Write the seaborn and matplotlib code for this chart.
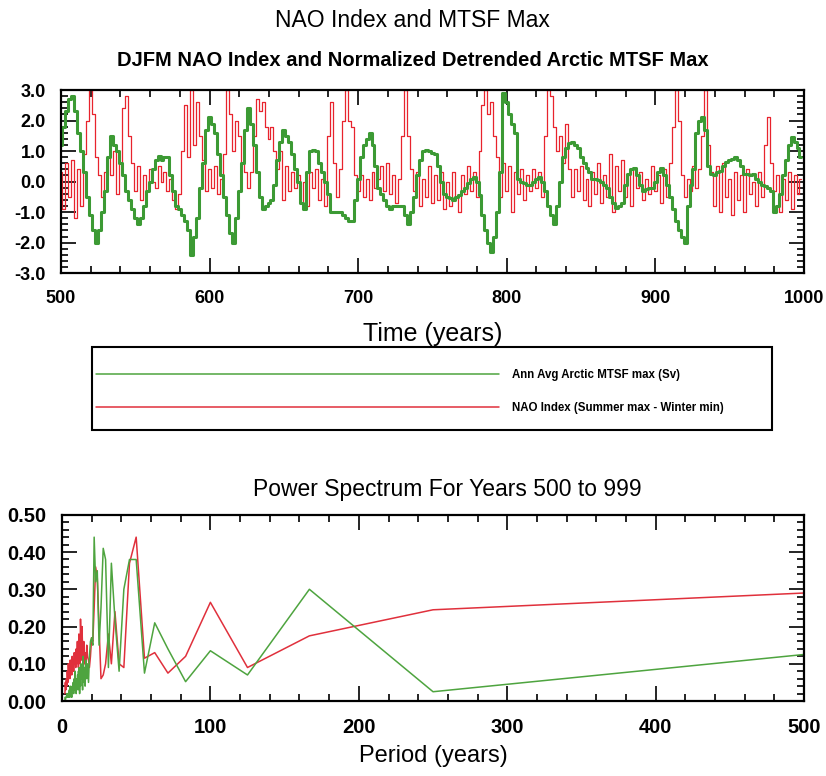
import matplotlib
matplotlib.use("Agg")
import numpy as np
import pandas as pd
import matplotlib.pyplot as plt
import seaborn as sns
from matplotlib.ticker import MultipleLocator, FormatStrFormatter
from matplotlib.patches import Rectangle

# Time axis: one value every 2 years, 500..998
years = list(range(500, 1000, 2))

# Annual average Arctic MTSF max (normalized, detrended) - green
mtsf = [
    1.2, 1.8, 2.3, 2.7, 2.8, 2.3, 1.6, 1.0, 0.3, -0.5,
    -1.1, -1.6, -2.0, -1.6, -1.0, -0.3, 0.8, 1.5, 1.2, 1.0,
    0.6, 0.2, -0.3, -0.6, -0.9, -1.2, -1.4, -1.2, -0.8, -0.3,
    0.0, 0.4, 0.7, 0.85, 0.7, 0.8, 0.8, 0.2, -0.3, -0.8,
    -0.9, -1.1, -1.3, -1.6, -2.4, -1.8, -1.2, -0.2, 0.6, 1.7,
    2.1, 1.9, 1.6, 0.9, 0.2, -0.5, -1.1, -1.7, -2.0, -1.2,
    -0.3, 0.6, 1.7, 2.4, 1.9, 1.2, 0.3, -0.5, -0.9, -0.8,
    -0.7, -0.6, -0.1, 0.7, 1.3, 1.7, 1.5, 1.3, 0.9, 0.4,
    0.0, -0.7, -0.9, 0.3, 1.0, 1.05, 1.0, 0.6, 0.3, 0.0,
    -0.4, -1.0, -1.0, -1.0, -1.0, -1.1, -1.2, -1.3, -1.3, -0.6,
    0.1, 0.8, 1.2, 1.4, 1.6, 1.2, 0.5, -0.2, -0.4, -0.6,
    -0.8, -0.9, -0.8, -0.8, -0.8, -0.8, -1.1, -1.4, -1.0, -0.5,
    0.2, 0.7, 1.0, 1.05, 1.0, 0.95, 0.9, 0.5, 0.0, -0.4,
    -0.5, -0.55, -0.6, -0.5, -0.45, -0.3, -0.2, -0.05, 0.1, 0.15,
    0.0, -0.45, -1.1, -1.6, -2.0, -2.3, -1.8, -1.0, 0.3, 2.9,
    2.6, 2.2, 1.9, 1.6, 0.1, 0.0, -0.05, -0.1, -0.1, 0.0,
    0.1, 0.15, 0.0, -0.3, -0.8, -1.1, -1.4, -0.8, 0.0, 0.8,
    1.1, 1.25, 1.3, 1.2, 1.1, 0.8, 0.6, 0.45, 0.3, 0.1,
    0.1, 0.05, 0.0, -0.1, -0.2, -0.5, -0.7, -0.85, -0.8, -0.7,
    -0.1, 0.25, 0.4, 0.45, 0.2, -0.1, -0.3, -0.25, -0.2, -0.2,
    0.0, 0.3, 0.45, 0.2, -0.1, -0.5, -0.9, -1.3, -1.6, -1.8,
    -2.0, -0.8, -0.1, 0.4, 1.6, 2.0, 2.1, 1.7, 0.5, 0.25,
    0.2, 0.3, 0.35, 0.5, 0.65, 0.7, 0.75, 0.8, 0.7, 0.5,
    0.25, 0.25, 0.2, 0.25, 0.1, 0.0, -0.1, -0.15, -0.2, -0.3,
    -1.0, -0.8, -0.4, 0.2, 0.7, 1.2, 1.45, 1.3, 1.1, 0.8,
]

# DJFM NAO index - red
nao = [
    0.3, -0.9, 0.6, -0.5, 0.7, -1.2, 0.4, -0.8, 0.9, 2.0,
    3.0, 2.2, 0.8, 0.2, -0.5, 0.3, 0.8, 0.2, 1.0, -0.4,
    0.6, 2.4, 2.8, 1.5, 0.6, -0.3, 0.5, -0.6, 0.2, -0.3,
    0.4, 0.0, -0.2, 0.5, 0.0, 0.3, -0.3, 0.1, -0.6, -0.9,
    -0.4, 1.0, 2.5, 0.8, 3.0, 1.2, 2.6, 1.5, 0.7, -0.3,
    0.4, -0.2, 0.5, -0.4, 0.1, 0.9, 3.0, 2.2, 1.0, 2.0,
    1.5, 0.6, 0.3, -0.2, 0.3, 1.5, 2.7, 2.3, 2.6, 1.8,
    1.4, 1.8, 1.0, 0.4, 1.0, -0.6, 0.5, -0.3, 0.3, -0.2,
    0.2, -0.7, 0.0, -0.8, 0.3, -0.2, 0.4, -0.6, 0.1, -0.8,
    1.5, 2.6, 0.6, -0.5, 0.4, 2.0, 3.0, 2.0, 1.8, 0.2,
    -0.3, 0.2, -0.5, 0.1, -0.6, 0.3, -0.2, 0.1, 0.5, -0.3,
    0.6, -0.4, 0.2, -0.7, 0.1, 1.5, 3.0, 1.5, 0.4, -0.3,
    0.3, -0.8, 0.1, -0.5, 0.5, -0.7, 0.2, -0.6, 0.3, -0.9,
    0.0, -0.8, 0.3, -0.5, -1.0, 0.2, -0.4, 0.5, -0.3, 0.3,
    -0.5, 1.0, 2.5, 3.0, 2.2, 2.6, 1.5, 0.8, -0.5, 0.6,
    -0.3, 0.5, -1.0, 0.3, -0.4, 0.4, -0.6, 0.2, -0.3, 0.4,
    -0.2, 0.3, -0.5, 1.5, 3.0, 2.8, 1.8, 1.0, 1.5, 0.6,
    1.9, 0.4, -0.5, 0.4, -0.3, 0.5, -0.6, 0.1, -0.8, 0.3,
    -0.4, 0.6, -0.7, 0.2, -0.5, 0.9, -1.0, 0.5, -0.3, 0.7,
    -0.5, 0.2, -0.8, 0.4, -0.2, 0.3, -0.6, 0.1, -0.4, 0.5,
    -0.3, 0.2, -0.7, 0.4, -0.5, 0.6, 1.8, 3.0, 2.0, 0.2,
    -0.5, 0.1, -0.3, 0.5, -0.2, 0.4, 1.5, 3.0, 1.2, 0.3,
    -0.8, 0.5, -1.0, 0.6, -0.5, 0.1, -1.1, 0.3, -0.6, 0.2,
    -1.0, 0.4, -0.4, 0.0, -0.8, 0.3, -0.5, 1.2, 2.1, 0.6,
    -0.3, 0.2, -1.0, 0.1, -0.6, 0.3, -0.9, 0.2, -0.4, 0.1,
]

# Power spectrum, period in years
periods = [
    500, 250, 166.7, 125, 100, 83.3, 71.4, 62.5, 55.6, 50,
    45.5, 41.7, 38.5, 35.7, 33.3, 31.3, 29.4, 27.8, 26.3, 25,
    23.8, 22.7, 21.7, 20.8, 20, 19.2, 18.5, 17.9, 17.2, 16.7,
    16.1, 15.6, 15.2, 14.7, 14.3, 13.9, 13.5, 13.2, 12.8, 12.5,
    12.2, 11.9, 11.6, 11.4, 11.1, 10.9, 10.6, 10.4, 10.0, 9.6,
    9.3, 8.9, 8.6, 8.3, 7.9, 7.6, 7.2, 6.9, 6.6, 6.2,
    5.9, 5.6, 5.3, 5.0, 4.6, 4.3, 4.0, 3.6, 3.3, 3.0,
    2.6, 2.3, 2.0,
]
power_mtsf = [
    0.125, 0.025, 0.30, 0.07, 0.135, 0.052, 0.14, 0.21, 0.075, 0.38,
    0.38, 0.30, 0.08, 0.22, 0.37, 0.09, 0.38, 0.41, 0.25, 0.15,
    0.35, 0.32, 0.44, 0.15, 0.17, 0.16, 0.12, 0.05, 0.10, 0.06,
    0.11, 0.04, 0.09, 0.05, 0.12, 0.03, 0.08, 0.06, 0.10, 0.04,
    0.07, 0.02, 0.09, 0.05, 0.08, 0.03, 0.07, 0.04, 0.06, 0.02,
    0.05, 0.08, 0.03, 0.06, 0.02, 0.05, 0.03, 0.04, 0.01, 0.03,
    0.02, 0.04, 0.01, 0.03, 0.02, 0.01, 0.02, 0.01, 0.02, 0.01,
    0.01, 0.00, 0.01,
]
power_nao = [
    0.29, 0.245, 0.175, 0.09, 0.265, 0.12, 0.075, 0.13, 0.115, 0.44,
    0.37, 0.09, 0.10, 0.24, 0.10, 0.18, 0.10, 0.07, 0.06, 0.20,
    0.33, 0.36, 0.25, 0.16, 0.17, 0.12, 0.09, 0.11, 0.12, 0.15,
    0.08, 0.13, 0.10, 0.16, 0.09, 0.14, 0.20, 0.11, 0.17, 0.22,
    0.10, 0.15, 0.12, 0.18, 0.09, 0.13, 0.11, 0.16, 0.10, 0.14,
    0.09, 0.12, 0.10, 0.13, 0.08, 0.11, 0.09, 0.12, 0.07, 0.10,
    0.08, 0.11, 0.06, 0.09, 0.07, 0.10, 0.05, 0.08, 0.04, 0.06,
    0.03, 0.05, 0.02,
]

GREEN = "#3c9a34"
RED = "#e8232d"
GREEN_SPEC = "#4ea43f"
RED_SPEC = "#e0303c"

ts = pd.DataFrame({"year": years, "mtsf": mtsf, "nao": nao})
spec = pd.DataFrame({"period": periods, "mtsf": power_mtsf, "nao": power_nao})

sns.set_style("ticks")
plt.rcParams["font.family"] = ["Liberation Sans", "DejaVu Sans"]
plt.rcParams.update({"text.color": "black", "axes.labelcolor": "black",
                     "xtick.color": "black", "ytick.color": "black"})

fig = plt.figure(figsize=(8.26, 7.76), dpi=100)

fig.text(0.499, 0.974, "NAO Index and MTSF Max", ha="center", va="center", fontsize=16.5)
fig.text(0.5, 0.922, "DJFM NAO Index and Normalized Detrended Arctic MTSF Max",
         ha="center", va="center", fontsize=14.5, fontweight="bold")


def style_axes(ax, xmaj, xmin, ymaj, ymin, yfmt, size):
    ax.xaxis.set_major_locator(MultipleLocator(xmaj))
    ax.xaxis.set_minor_locator(MultipleLocator(xmin))
    ax.yaxis.set_major_locator(MultipleLocator(ymaj))
    ax.yaxis.set_minor_locator(MultipleLocator(ymin))
    ax.yaxis.set_major_formatter(FormatStrFormatter(yfmt))
    ax.tick_params(which="both", direction="in", top=True, right=True,
                   width=1.2, colors="black", labelsize=size)
    ax.tick_params(which="major", length=11)
    ax.tick_params(which="minor", length=5)
    ax.tick_params(axis="y", which="major", pad=11)
    ax.tick_params(axis="x", which="major", pad=12)
    for lab in ax.get_xticklabels() + ax.get_yticklabels():
        lab.set_fontweight("bold")
    for s in ax.spines.values():
        s.set_linewidth(1.6)
        s.set_color("black")
        s.set_visible(True)


# Top panel: time series (stair style like the original plot)
ax1 = fig.add_axes([0.0738, 0.648, 0.8995, 0.236])
sns.lineplot(data=ts, x="year", y="nao", ax=ax1, color=RED, linewidth=0.9,
             drawstyle="steps-mid", legend=False)
sns.lineplot(data=ts, x="year", y="mtsf", ax=ax1, color=GREEN, linewidth=2.2,
             drawstyle="steps-mid", legend=False)
ax1.set_xlim(500, 1000)
ax1.set_ylim(-3.0, 3.0)
style_axes(ax1, 100, 20, 1.0, 0.2, "%.1f", 13)
ax1.set_ylabel("")
ax1.set_xlabel("Time (years)", fontsize=18, labelpad=11)

# Bottom panel: power spectrum
ax2 = fig.add_axes([0.075, 0.0966, 0.8985, 0.24])
sns.lineplot(data=spec, x="period", y="nao", ax=ax2, color=RED_SPEC, linewidth=1.1,
             label="NAO Index (Summer max - Winter min)", legend=False)
sns.lineplot(data=spec, x="period", y="mtsf", ax=ax2, color=GREEN_SPEC, linewidth=1.1,
             label="Ann Avg Arctic MTSF max (Sv)", legend=False)
ax2.set_xlim(0, 500)
ax2.set_ylim(0.0, 0.5)
style_axes(ax2, 100, 20, 0.1, 0.02, "%.2f", 14.5)
ax2.set_ylabel("")
ax2.set_xlabel("Period (years)", fontsize=17, labelpad=6)
fig.text(0.541, 0.369, "Power Spectrum For Years 500 to 999", ha="center", va="center",
         fontsize=16.5)

# Legend box between the panels
fig.patches.append(Rectangle((92 / 826, 1 - 430 / 776), 680 / 826, 83 / 776,
                             transform=fig.transFigure, fill=False,
                             edgecolor="black", linewidth=1.5))
handles, labels = ax2.get_legend_handles_labels()
order = [1, 0]
leg = fig.legend([handles[i] for i in order], [labels[i] for i in order],
                 loc="upper left", bbox_to_anchor=(96 / 826, 1 - 369 / 776),
                 ncol=1, fontsize=8.3, handlelength=35, handletextpad=1.1,
                 labelspacing=1.85, borderpad=0, borderaxespad=0, frameon=False)
for t in leg.get_texts():
    t.set_fontweight("bold")

fig.savefig("out.png", dpi=100)
